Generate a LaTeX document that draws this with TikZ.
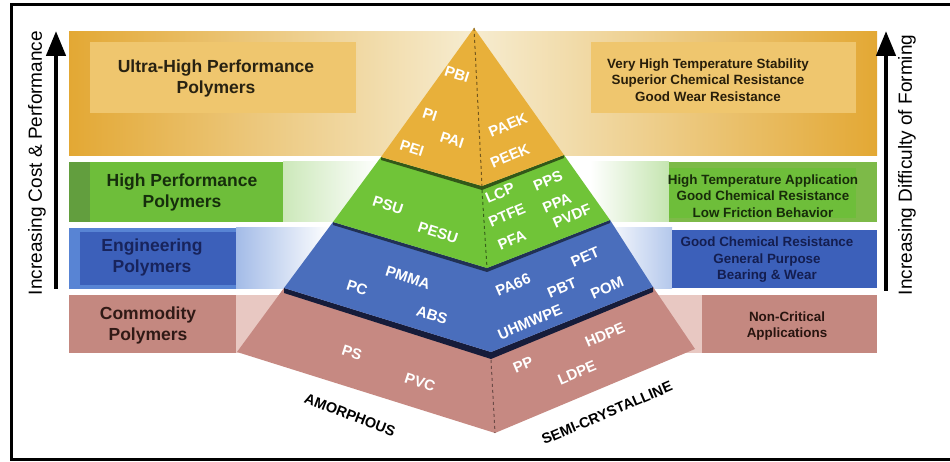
\documentclass[tikz,border=0pt]{standalone}
\usepackage{fontspec}
\setmainfont{Liberation Sans}
\usetikzlibrary{arrows.meta}

\definecolor{golddark}{RGB}{227,168,52}
\definecolor{goldbox}{RGB}{239,198,110}
\definecolor{goldpale}{RGB}{246,236,208}
\definecolor{goldtier}{RGB}{232,176,58}
\definecolor{greenstrip}{RGB}{98,158,62}
\definecolor{greenbox}{RGB}{110,190,58}
\definecolor{greenband}{RGB}{125,186,72}
\definecolor{greentier}{RGB}{112,196,56}
\definecolor{bluestrip}{RGB}{88,132,212}
\definecolor{bluebox}{RGB}{60,96,186}
\definecolor{bluetier}{RGB}{74,110,188}
\definecolor{pinkband}{RGB}{196,136,128}
\definecolor{pinkpale}{RGB}{232,200,194}
\definecolor{pinktier}{RGB}{198,137,130}
\definecolor{shadow}{RGB}{22,28,58}

\begin{document}
\begin{tikzpicture}[x=1pt,y=-1pt,
    plbl/.style={font=\bfseries\fontsize{15}{15}\selectfont,text=white,inner sep=0pt},
    lface/.style={plbl,rotate=-18},
    rface/.style={plbl,rotate=23},
    cls/.style={font=\bfseries\fontsize{17.5}{21}\selectfont,align=center,inner sep=0pt},
    prop/.style={font=\bfseries\fontsize{13.4}{16.5}\selectfont,align=center,inner sep=0pt},
    axislbl/.style={font=\fontsize{19}{19}\selectfont,rotate=90,inner sep=0pt},
    uparrow/.style={line width=4.5pt,-{Triangle[width=19pt,length=25pt]}}]
  \useasboundingbox (0,0) rectangle (950,462);
  \fill[white] (0,0) rectangle (950,462);

  % bands
  \fill[left color=golddark,right color=golddark,middle color=goldpale] (69,32) rectangle (877,156);
  \fill[goldbox] (90,42) rectangle (356,113);
  \fill[goldbox] (591,42) rectangle (856,113);

  \fill[greenstrip] (69,162) rectangle (90,222);
  \fill[greenbox] (90,162) rectangle (283,222);
  \fill[left color=greenbox!35!white,right color=white] (283,162) rectangle (380,222);
  \fill[left color=white,right color=greenbox!40!white] (590,162) rectangle (669,222);
  \fill[greenband] (669,162) rectangle (877,222);
  \fill[greenbox] (669,168) rectangle (856,218);

  \fill[bluestrip] (69,228) rectangle (236,289);
  \fill[bluebox] (80,232) rectangle (236,285);
  \fill[left color=bluestrip!55!white,right color=white] (236,228) rectangle (330,289);
  \fill[left color=white,right color=bluestrip!45!white] (600,228) rectangle (672,289);
  \fill[bluebox] (672,230) rectangle (877,288);

  \fill[pinkband] (69,295) rectangle (236,353);
  \fill[pinkpale] (236,295) rectangle (290,353);
  \fill[pinkpale] (650,295) rectangle (702,353);
  \fill[pinkband] (702,295) rectangle (877,353);

  % pyramid
  \coordinate (A) at (474,28);
  \coordinate (L1) at (381,157); \coordinate (M1) at (482,186); \coordinate (R1) at (564,155);
  \coordinate (L2) at (333,222); \coordinate (M2) at (487,268); \coordinate (R2) at (610,220);
  \coordinate (L3) at (284,288); \coordinate (M3) at (491,352); \coordinate (R3) at (653,287);
  \coordinate (L4) at (237,352); \coordinate (M4) at (495,433); \coordinate (R4) at (695,349);

  \fill[pinktier] (L3) -- (M3) -- (R3) -- (R4) -- (M4) -- (L4) -- cycle;
  \fill[shadow] (L3) -- (M3) -- (R3) -- ([yshift=-5pt]R3) -- ([yshift=-7pt]M3) -- ([yshift=-5pt]L3) -- cycle;
  \draw[pinktier!55!black,dashed,line width=1pt] ([yshift=-8pt]M3) -- (M4);
  \fill[bluetier] (L2) -- (M2) -- (R2) -- (R3) -- (M3) -- (L3) -- cycle;
  \fill[bluetier!45!black] (L2) -- (M2) -- (R2) -- ([yshift=-3pt]R2) -- ([yshift=-4pt]M2) -- ([yshift=-3pt]L2) -- cycle;
  \fill[greentier] (L1) -- (M1) -- (R1) -- (R2) -- (M2) -- (L2) -- cycle;
  \fill[greentier!45!black] (L1) -- (M1) -- (R1) -- ([yshift=-3pt]R1) -- ([yshift=-4pt]M1) -- ([yshift=-3pt]L1) -- cycle;
  \draw[greentier!50!black,dashed,line width=1pt] ([yshift=-4pt]M1) -- (M2);
  \fill[goldtier] (A) -- (R1) -- (M1) -- (L1) -- cycle;
  \draw[goldtier!50!black,dashed,line width=1pt] (A) -- (M1);

  % polymers
  \node[lface] (pbi) at (457,74) {PBI};
  \node[lface] (pi) at (430,115) {PI};
  \node[lface] (pai) at (452,140) {PAI};
  \node[lface] (pei) at (412,148) {PEI};
  \node[rface] (paek) at (508,125) {PAEK};
  \node[rface] (peek) at (510,156) {PEEK};
  \node[lface] (psu) at (388,205) {PSU};
  \node[lface] (pesu) at (438,233) {PESU};
  \node[rface] (lcp) at (500,193) {LCP};
  \node[rface] (pps) at (548,181) {PPS};
  \node[rface] (ptfe) at (507,215) {PTFE};
  \node[rface] (ppa) at (557,203) {PPA};
  \node[rface] (pvdf) at (572,216) {PVDF};
  \node[rface] (pfa) at (512,240) {PFA};
  \node[lface] (pmma) at (408,278) {PMMA};
  \node[lface] (pc) at (357,288) {PC};
  \node[lface] (abs) at (432,315) {ABS};
  \node[rface] (pa66) at (513,285) {PA66};
  \node[rface] (pet) at (585,257) {PET};
  \node[rface] (pbt) at (562,288) {PBT};
  \node[rface] (pom) at (607,288) {POM};
  \node[rface] (uhmwpe) at (530,322) {UHMWPE};
  \node[lface] (ps) at (352,353) {PS};
  \node[lface] (pvc) at (420,382) {PVC};
  \node[rface] (pp) at (523,365) {PP};
  \node[rface] (hdpe) at (605,335) {HDPE};
  \node[rface] (ldpe) at (577,373) {LDPE};

  \node[font=\bfseries\fontsize{14.5}{14.5}\selectfont,rotate=-21] (amorph) at (350,415) {AMORPHOUS};
  \node[font=\bfseries\fontsize{14.5}{14.5}\selectfont,rotate=23] (semi) at (607,413) {SEMI-CRYSTALLINE};

  % classes
  \node[cls,text={rgb,255:red,40;green,34;blue,18}] (ultra) at (216,78) {Ultra-High Performance\\Polymers};
  \node[cls,text={rgb,255:red,22;green,46;blue,12}] (highp) at (182,192) {High Performance\\Polymers};
  \node[cls,text={rgb,255:red,24;green,36;blue,92}] (engin) at (152,257) {Engineering\\Polymers};
  \node[cls,text={rgb,255:red,48;green,26;blue,22}] (commod) at (148,325) {Commodity\\Polymers};

  % properties
  \node[prop,text={rgb,255:red,40;green,30;blue,10}] (ultraprop) at (708,80) {Very High Temperature Stability\\Superior Chemical Resistance\\Good Wear Resistance};
  \node[prop,text={rgb,255:red,24;green,44;blue,10}] (highprop) at (763,196) {High Temperature Application\\Good Chemical Resistance\\Low Friction Behavior};
  \node[prop,text={rgb,255:red,20;green,30;blue,80}] (enginprop) at (767,260) {Good Chemical Resistance\\General Purpose\\Bearing \& Wear};
  \node[prop,text={rgb,255:red,40;green,20;blue,15}] (commodprop) at (787,326) {Non-Critical\\Applications};

  % axes
  \coordinate (costlo) at (56,289);
  \coordinate (costhi) at (56,31);
  \draw[uparrow] (costlo) -- (costhi);
  \node[axislbl] (cost) at (37,163) {Increasing Cost \& Performance};
  \coordinate (formlo) at (886,291);
  \coordinate (formhi) at (886,31);
  \draw[uparrow] (formlo) -- (formhi);
  \node[axislbl] (form) at (907,165) {Increasing Difficulty of Forming};

  % frame
  \draw[line width=3pt] (960,459) -- (11.5,459) -- (11.5,4.5) -- (960,4.5);
\end{tikzpicture}
\end{document}
